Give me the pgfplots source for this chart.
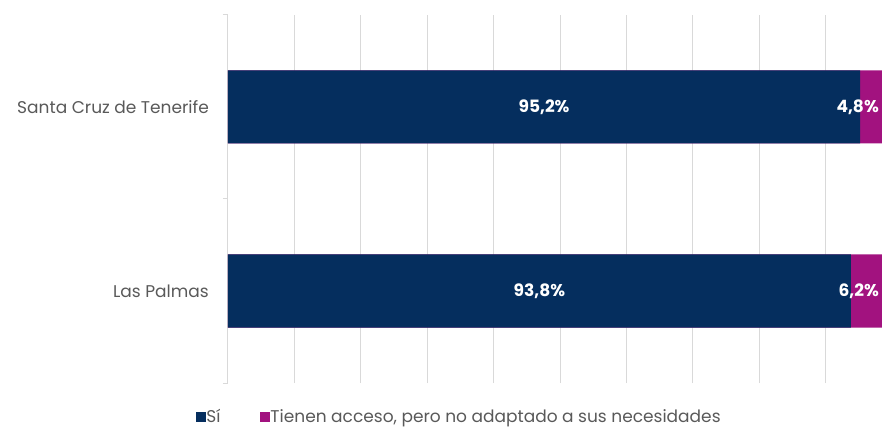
\documentclass[border=0pt]{standalone}
\usepackage{pgfplots}
\pgfplotsset{compat=1.18}
\usepackage{fontspec}
\setmainfont{Poppins}
\definecolor{navy}{HTML}{052E5E}
\definecolor{mag}{HTML}{A2127F}
\definecolor{gridc}{HTML}{D9D9D9}
\definecolor{txt}{HTML}{595959}
\begin{document}
\begin{tikzpicture}
\begin{axis}[
  scale only axis, width=664bp, height=368bp,
  xmin=0, xmax=100, ymin=-0.5, ymax=1.5,
  axis lines*=left,
  x axis line style={draw=none},
  y axis line style={draw=gridc, line width=1bp},
  xtick={0,10,...,100}, xticklabels={},
  xmajorgrids, major grid style={draw=gridc, line width=1bp},
  ytick={0,1}, yticklabels={Las Palmas, Santa Cruz de Tenerife},
  extra y ticks={-0.5,0.5,1.5}, extra y tick labels={},
  extra y tick style={major tick length=5bp, tick style={draw=gridc, line width=1bp}, ymajorgrids=false},
  tick align=outside,
  major tick length=0pt,
  yticklabel style={font=\fontsize{17bp}{19bp}\selectfont, text=txt, inner sep=0pt, xshift=-19bp},
  legend style={at={(0.348,-0.092)}, anchor=center, draw=none, fill=none,
    legend columns=2, font=\fontsize{17bp}{19bp}\selectfont, text=txt,
    /tikz/every even column/.append style={column sep=38bp},
    nodes={inner sep=1.5bp},
    inner sep=0pt, row sep=0pt},
  legend cell align=left,
]
\addplot[xbar, bar width=73bp, fill=mag, draw=none, forget plot] coordinates {(100,1) (100,0)};
\addplot[xbar, bar width=73bp, fill=navy, draw=none, forget plot] coordinates {(95.2,1) (93.8,0)};
\addplot[draw=none, mark=none, nodes near coords, point meta=explicit symbolic,
  nodes near coords style={anchor=center, text=white, font=\bfseries\fontsize{17bp}{19bp}\selectfont}, forget plot]
  coordinates {(47.6,1) [95,2\%] (46.9,0) [93,8\%]};
\addplot[draw=none, mark=none, nodes near coords, point meta=explicit symbolic,
  nodes near coords style={anchor=east, inner sep=0pt, xshift=-13bp, text=white, font=\bfseries\fontsize{17bp}{19bp}\selectfont}, forget plot]
  coordinates {(100,1) [4,8\%] (100,0) [6,2\%]};
\addlegendimage{legend image code/.code={\fill[navy] (0bp,-4.5bp) rectangle (8.5bp,4.5bp);}}
\addlegendentry{Sí}
\addlegendimage{legend image code/.code={\fill[mag] (0bp,-4.5bp) rectangle (8.5bp,4.5bp);}}
\addlegendentry{Tienen acceso, pero no adaptado a sus necesidades}
\coordinate (ll) at (axis cs:0,-0.5);
\end{axis}
\pgfresetboundingbox
\useasboundingbox ([xshift=-228bp, yshift=-49bp]ll) rectangle ([xshift=654bp, yshift=383bp]ll);
\end{tikzpicture}
\end{document}
